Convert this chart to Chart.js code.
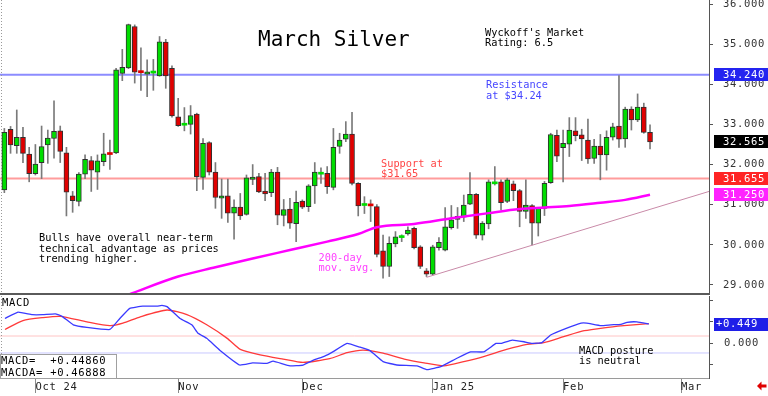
<!DOCTYPE html>
<html><head><meta charset="utf-8">
<script src="https://cdn.jsdelivr.net/npm/chart.js@4.4.1/dist/chart.umd.min.js"></script>
<style>
html,body{margin:0;padding:0;background:#fff;}
#wrap{position:relative;width:768px;height:396px;overflow:hidden;background:#fff;}
#p1{position:absolute;left:0;top:0;width:768px;height:295px;}
#p2{position:absolute;left:0;top:295px;width:768px;height:101px;}
</style></head><body>
<div id="wrap">
<div id="p1"><canvas id="c1" width="768" height="295"></canvas></div>
<div id="p2"><canvas id="c2" width="768" height="101"></canvas></div>
</div>
<script>
// ---------- DATA ----------
const opens  = [31.37,32.88,32.47,32.68,32.26,31.77,32.05,32.49,32.65,32.84,32.29,31.22,31.08,31.76,32.10,31.81,32.07,32.29,32.29,34.27,34.41,35.44,34.31,34.25,34.28,34.21,35.05,34.40,33.19,32.98,33.00,33.26,31.68,32.55,31.81,31.16,31.22,30.79,30.94,30.76,31.63,31.70,31.34,31.30,31.81,30.73,30.89,30.53,31.09,30.95,31.47,31.76,31.78,31.43,32.45,32.63,32.76,31.53,30.98,31.00,30.95,29.85,29.46,30.02,30.18,30.27,30.41,29.95,29.35,29.27,29.93,29.87,30.43,30.63,30.69,31.01,31.26,30.24,30.52,31.52,31.57,31.08,31.52,31.35,30.83,30.98,30.54,30.91,31.55,32.73,32.42,32.51,32.84,32.74,32.61,32.15,32.46,32.24,32.68,32.96,32.64,33.38,33.11,33.43,32.80];
const highs  = [32.90,32.95,33.36,32.93,32.43,32.50,32.96,32.86,33.59,32.96,32.43,31.33,31.80,32.24,32.20,32.24,32.78,32.61,34.40,34.87,35.50,35.48,34.91,34.61,34.62,35.19,35.12,34.46,33.65,33.42,33.47,33.28,32.65,32.57,32.05,31.64,31.64,31.12,31.28,31.74,32.00,31.78,31.78,31.88,31.93,31.13,31.16,31.34,31.12,31.50,32.05,31.92,31.95,32.90,32.78,33.07,33.30,31.55,31.20,31.12,31.00,30.24,30.20,30.33,30.25,30.45,30.44,29.98,29.41,29.99,30.18,30.93,30.98,30.93,31.24,31.80,31.28,30.58,31.62,31.95,31.62,31.66,31.59,31.38,31.62,31.00,30.93,31.58,32.78,32.86,32.86,33.17,33.17,32.88,33.13,32.63,32.75,32.84,33.03,34.22,33.43,33.44,33.76,33.53,32.99];
const lows   = [31.30,32.28,32.28,32.05,31.57,31.74,31.65,32.03,32.16,32.05,30.72,30.81,30.97,31.65,31.33,31.38,31.97,31.88,32.27,34.09,34.39,34.03,33.85,33.69,33.85,34.20,33.90,33.18,32.95,32.84,32.76,31.35,31.38,31.74,30.91,30.66,30.56,30.14,30.63,30.74,31.50,31.30,31.10,31.20,30.50,30.47,30.41,30.08,30.90,30.83,31.03,31.53,31.28,31.37,32.28,32.57,31.49,30.72,30.78,30.58,29.70,29.17,29.21,29.95,30.08,30.24,29.90,29.41,29.21,29.25,29.87,29.85,30.39,30.41,30.58,31.00,30.16,30.12,30.40,31.49,30.87,31.05,31.10,30.45,30.66,30.00,30.22,30.73,31.53,32.07,31.57,32.20,32.59,32.10,32.03,32.03,31.62,31.86,32.61,32.43,32.43,32.86,33.07,32.78,32.39];
const closes = [32.80,32.49,32.68,32.28,31.77,32.01,32.45,32.66,32.83,32.33,31.31,31.10,31.76,32.13,31.86,32.09,32.27,32.25,34.36,34.42,35.49,34.30,34.29,34.31,34.31,35.06,34.21,33.21,32.97,33.00,33.22,31.70,32.53,31.81,31.18,31.22,30.79,30.94,30.72,31.67,31.69,31.32,31.27,31.81,30.74,30.88,30.54,31.06,30.94,31.47,31.81,31.79,31.45,32.43,32.61,32.76,31.53,30.97,31.00,30.97,29.76,29.46,30.04,30.20,30.20,30.37,29.93,29.46,29.27,29.95,30.06,30.45,30.62,30.71,30.99,31.26,30.24,30.54,31.57,31.54,31.05,31.62,31.35,30.83,30.99,30.54,30.91,31.53,32.75,32.21,32.53,32.86,32.72,32.64,32.14,32.46,32.24,32.68,32.94,32.63,33.38,33.11,33.43,32.80,32.565];

const maIdx = [20,28,34,40,46,52,57,60,66,72,78,83,87,91,96,100,104];
const maVal = [28.76,29.21,29.44,29.66,29.87,30.08,30.27,30.44,30.52,30.66,30.79,30.89,30.93,30.97,31.05,31.12,31.25];

const trendIdx = [68,113.5];
const trendVal = [29.19,31.33];

const resistance = 34.24;
const support = 31.655;

const priceTicks = [29,30,31,32,33,34,35,36];
const priceMarks = [34.24,32.565,31.655,31.25];
const priceMarkLabels = ['34.240','32.565','31.655','31.250'];

const macdIdx = [0.1,2.2,4.5,6.2,8.2,9.3,11.1,13.3,17.0,18.6,20.2,22.3,24.6,25.4,26.2,28.3,30.2,31.2,32.6,34.7,37.9,40.0,42.3,43.3,46.0,48.1,49.7,51.6,52.9,55.2,57.3,58.9,61.0,63.2,66.5,68.1,70.3,72.9,75.1,77.2,79.2,80.0,81.8,83.7,85.0,86.6,88.0,90.4,92.9,93.8,96.1,97.7,99.3,100.3,101.9,103.8];
const macdVal = [0.58,0.73,0.67,0.67,0.69,0.63,0.43,0.37,0.32,0.58,0.82,0.87,0.87,0.89,0.86,0.58,0.43,0.23,0.11,-0.17,-0.52,-0.47,-0.48,-0.43,-0.54,-0.52,-0.41,-0.31,-0.21,-0.01,-0.10,-0.18,-0.44,-0.52,-0.54,-0.63,-0.56,-0.36,-0.21,-0.21,-0.01,-0.01,0.07,0.03,-0.01,0.01,0.19,0.34,0.47,0.47,0.41,0.43,0.44,0.49,0.50,0.449];
const sigIdx = [0.1,3.0,6.2,9.0,13.3,17.0,19.1,21.9,26.2,29.4,32.6,35.9,38.0,41.2,44.9,48.1,52.4,55.2,57.8,61.0,64.4,67.6,70.8,74.0,77.2,80.9,84.2,86.9,90.1,93.4,96.6,99.8,103.8];
const sigVal = [0.32,0.53,0.60,0.63,0.50,0.41,0.47,0.62,0.78,0.67,0.43,0.11,-0.15,-0.28,-0.38,-0.46,-0.37,-0.23,-0.17,-0.24,-0.38,-0.47,-0.54,-0.44,-0.32,-0.15,-0.03,0.01,0.15,0.29,0.36,0.41,0.46];
const macdRefLevels = [0.165,-0.236];
const macdTicks = [-0.5,0,0.5,1];
const macdMark = 0.449;
const macdMarkLabel = '+0.449';

const monthIdx = [5,28,48,69,90,109];
const monthLabels = ['Oct 24','Nov','Dec','Jan 25','Feb','Mar'];

const xMin = -0.7, xMax = 113.5;

// ---------- STYLE / HELPERS ----------
const MONO = '"DejaVu Sans Mono", monospace';
const UP = '#00dd00', DOWN = '#e00000';

function txt(ctx, s, x, y, size, color, spacing, baseline) {
  ctx.save();
  ctx.font = size + 'px ' + MONO;
  ctx.fillStyle = color;
  ctx.textAlign = 'left';
  ctx.textBaseline = baseline || 'alphabetic';
  if ('letterSpacing' in ctx) ctx.letterSpacing = spacing || '0px';
  ctx.fillText(s, x, y);
  ctx.restore();
}

const spacingPlugin = {
  id: 'spacing',
  beforeDraw(chart) { if ('letterSpacing' in chart.ctx) chart.ctx.letterSpacing = '0.7px'; }
};

// ---------- MAIN PRICE CHART ----------
const mainDeco = {
  id: 'mainDeco',
  afterDraw(chart) {
    const ctx = chart.ctx, ys = chart.scales.y, ca = chart.chartArea;
    ctx.save();
    ctx.strokeStyle = '#9a9a9a'; ctx.lineWidth = 1; ctx.setLineDash([1, 2]);
    ctx.beginPath(); ctx.moveTo(1.5, 0); ctx.lineTo(1.5, ca.bottom); ctx.stroke();
    ctx.setLineDash([]);
    ctx.fillStyle = '#5a5a5a';
    ctx.fillRect(0, ca.bottom - 2, ca.right + 1, 2);
    ctx.restore();

    const markColors = ['#2424f0', '#000000', '#ff2424', '#ff22ff'];
    priceMarks.forEach((v, i) => {
      const py = ys.getPixelForValue(v);
      ctx.fillStyle = markColors[i];
      ctx.fillRect(714, Math.round(py - 6.5), 54, 13);
      txt(ctx, priceMarkLabels[i], 723, py + 0.5, 10.5, '#ffffff', '0.7px', 'middle');
    });

    txt(ctx, 'March Silver', 258, 46, 21, '#000000');
    txt(ctx, "Wyckoff's Market", 485, 36, 10.3, '#000000');
    txt(ctx, 'Rating: 6.5', 485, 46, 10.3, '#000000');
    txt(ctx, 'Resistance', 486, 88, 10.3, '#4646ff');
    txt(ctx, 'at $34.24', 486, 98.5, 10.3, '#4646ff');
    txt(ctx, 'Support at', 381, 167, 10.3, '#ff4646');
    txt(ctx, '$31.65', 381, 177, 10.3, '#ff4646');
    txt(ctx, 'Bulls have overall near-term', 39, 241, 10.3, '#000000');
    txt(ctx, 'technical advantage as prices', 39, 251.5, 10.3, '#000000');
    txt(ctx, 'trending higher.', 39, 262, 10.3, '#000000');
    txt(ctx, '200-day', 318.5, 261, 10.3, '#ff40ff');
    txt(ctx, 'mov. avg.', 318.5, 271, 10.3, '#ff40ff');
  }
};

new Chart(document.getElementById('c1'), {
  type: 'bar',
  data: {
    datasets: [
      { type: 'line', data: [{x: xMin, y: resistance}, {x: xMax, y: resistance}],
        borderColor: '#8c8cff', borderWidth: 2, pointRadius: 0, order: 6 },
      { type: 'line', data: [{x: xMin, y: support}, {x: xMax, y: support}],
        borderColor: '#ff9c9c', borderWidth: 2, pointRadius: 0, order: 6 },
      { type: 'bar', data: lows.map((l, i) => ({x: i, y: [l, highs[i]]})),
        backgroundColor: '#7a7a7a', barThickness: 1, grouped: false, order: 5 },
      { type: 'bar', data: opens.map((o, i) => ({x: i, y: [o, closes[i]]})),
        backgroundColor: opens.map((o, i) => closes[i] >= o ? UP : DOWN),
        borderColor: '#303030',
        borderWidth: (c) => Math.abs(opens[c.dataIndex] - closes[c.dataIndex]) < 0.05 ? 0 : 1,
        borderSkipped: false, barThickness: 5, minBarLength: 2, grouped: false, order: 4 },
      { type: 'line', data: trendIdx.map((x, i) => ({x, y: trendVal[i]})),
        borderColor: '#c98aa8', borderWidth: 1, pointRadius: 0, order: 2 },
      { type: 'line', data: maIdx.map((x, i) => ({x, y: maVal[i]})),
        borderColor: '#ff00ff', borderWidth: 2.5, pointRadius: 0, tension: 0.3,
        cubicInterpolationMode: 'monotone', order: 1 }
    ]
  },
  options: {
    responsive: false, animation: false, events: [],
    layout: { padding: 0 },
    plugins: { legend: { display: false }, tooltip: { enabled: false } },
    scales: {
      x: { type: 'linear', display: false, min: xMin, max: xMax, offset: false, grid: { offset: false } },
      y: {
        type: 'linear', position: 'right', min: 28.75, max: 36.1,
        afterBuildTicks: (s) => { s.ticks = priceTicks.map(v => ({value: v})); },
        afterFit: (s) => { s.width = 59; s.paddingTop = 0; s.paddingBottom = 0; },
        grid: { drawOnChartArea: false, tickLength: 4, color: '#555' },
        border: { display: true, color: '#555' },
        ticks: { padding: 10, color: '#333', font: { family: MONO, size: 10.5 },
                 callback: (v) => Number(v).toFixed(3) }
      }
    }
  },
  plugins: [spacingPlugin, mainDeco]
});

// ---------- MACD CHART ----------
const macdDeco = {
  id: 'macdDeco',
  afterDraw(chart) {
    const ctx = chart.ctx, ys = chart.scales.y, ca = chart.chartArea;
    ctx.save();
    ctx.strokeStyle = '#9a9a9a'; ctx.lineWidth = 1; ctx.setLineDash([1, 2]);
    ctx.beginPath(); ctx.moveTo(1.5, ca.top); ctx.lineTo(1.5, ca.bottom); ctx.stroke();
    ctx.setLineDash([]);
    ctx.fillStyle = '#ffffff'; ctx.fillRect(0, 59, 117, 25);
    ctx.strokeStyle = '#a0a0a0'; ctx.strokeRect(0.5, 59.5, 116, 24);
    ctx.fillStyle = '#e00000';
    ctx.beginPath(); ctx.moveTo(757, 91); ctx.lineTo(761.5, 86.5); ctx.lineTo(761.5, 95.5); ctx.closePath(); ctx.fill();
    ctx.fillRect(761, 89.5, 5.5, 3);
    const py = ys.getPixelForValue(macdMark);
    ctx.fillStyle = '#1f1fe8';
    ctx.fillRect(714, Math.round(py - 6.5), 54, 13);
    ctx.restore();
    txt(ctx, macdMarkLabel, 716, py + 0.5, 10.5, '#ffffff', '0.7px', 'middle');

    txt(ctx, 'MACD', 2, 11, 10.5, '#000000', '0.7px');
    txt(ctx, 'MACD=  +0.44860', 1, 69, 10.5, '#000000', '0.7px');
    txt(ctx, 'MACDA= +0.46888', 1, 81, 10.5, '#000000', '0.7px');
    txt(ctx, 'MACD posture', 579, 59, 10.3, '#000000');
    txt(ctx, 'is neutral', 579, 69, 10.3, '#000000');
  }
};

new Chart(document.getElementById('c2'), {
  type: 'line',
  data: {
    datasets: [
      { data: [{x: xMin, y: macdRefLevels[0]}, {x: xMax, y: macdRefLevels[0]}],
        borderColor: '#ffc4c4', borderWidth: 1, pointRadius: 0, order: 4 },
      { data: [{x: xMin, y: macdRefLevels[1]}, {x: xMax, y: macdRefLevels[1]}],
        borderColor: '#c8c8ff', borderWidth: 1, pointRadius: 0, order: 4 },
      { label: 'MACDA', data: sigIdx.map((x, i) => ({x, y: sigVal[i]})),
        borderColor: '#ff3a3a', borderWidth: 1.3, pointRadius: 0, tension: 0.2, order: 2 },
      { label: 'MACD', data: macdIdx.map((x, i) => ({x, y: macdVal[i]})),
        borderColor: '#3a3aff', borderWidth: 1.3, pointRadius: 0, tension: 0.1, order: 1 }
    ]
  },
  options: {
    responsive: false, animation: false, events: [],
    layout: { padding: { top: 1 } },
    plugins: { legend: { display: false }, tooltip: { enabled: false } },
    scales: {
      x: {
        type: 'linear', position: 'bottom', min: xMin, max: xMax, offset: false,
        afterBuildTicks: (s) => { s.ticks = monthIdx.map(v => ({value: v})); },
        afterFit: (s) => { s.height = 18; s.paddingLeft = 0; s.paddingRight = 0; },
        grid: { drawOnChartArea: false, tickLength: 15, color: '#8a8a8a' },
        border: { display: true, color: '#9a9a9a' },
        ticks: { align: 'start', padding: -12, maxRotation: 0, autoSkip: false,
                 color: '#222', font: { family: MONO, size: 10.5 },
                 callback: (v, i) => monthLabels[i] }
      },
      y: {
        type: 'linear', position: 'right', min: -0.827, max: 1.111,
        afterBuildTicks: (s) => { s.ticks = macdTicks.map(v => ({value: v})); },
        afterFit: (s) => { s.width = 59; s.paddingTop = 0; s.paddingBottom = 0; },
        grid: { drawOnChartArea: false, tickLength: 4, color: '#555' },
        border: { display: true, color: '#555' },
        ticks: { padding: 11, color: '#333', font: { family: MONO, size: 10.5 },
                 callback: (v) => v === 0 ? '0.000' : '' }
      }
    }
  },
  plugins: [spacingPlugin, macdDeco]
});
</script>
</body></html>
